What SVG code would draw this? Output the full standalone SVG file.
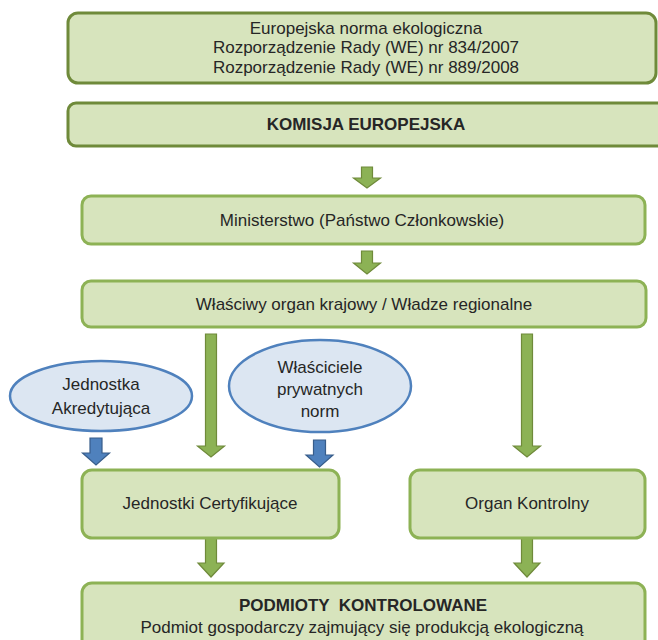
<svg xmlns="http://www.w3.org/2000/svg" width="658" height="640" viewBox="0 0 658 640">
  <defs>
    <style>
      .box { fill: #d7e4bd; stroke: #8db255; stroke-width: 3; }
      .box-dark { fill: #d7e4bd; stroke: #6f8a3a; stroke-width: 3; }
      .oval { fill: #dce6f2; stroke: #4f81bd; stroke-width: 2.5; }
      .g-arrow { fill: #8cb255; stroke: #6f8a3a; stroke-width: 1.2; }
      .b-arrow { fill: #4f81bd; stroke: #385d8a; stroke-width: 1.2; }
      text { font-family: "Liberation Sans", Arial, sans-serif; font-size: 17px; fill: #262626; text-anchor: middle; white-space: pre; }
      .bold { font-weight: bold; }
    </style>
  </defs>
  <rect width="658" height="640" fill="#ffffff"/>

  <g id="connectors">
    <!-- short arrows down the central chain -->
    <path class="g-arrow" d="M361.5,167 h11 v11 h8 l-13.5,10 l-13.5,-10 h8 z"/>
    <path class="g-arrow" d="M361.5,251 h11 v12 h8 l-13.5,11 l-13.5,-11 h8 z"/>
    <!-- long arrows from the national authority -->
    <path class="g-arrow" d="M205.5,334 h11 v112 h8 l-13.5,11 l-13.5,-11 h8 z"/>
    <path class="g-arrow" d="M521.5,334 h11 v112 h8 l-13.5,11 l-13.5,-11 h8 z"/>
    <!-- arrows from the accreditation and private standard owners -->
    <path class="b-arrow" d="M90,438 h12 v15 h7.5 l-13.5,12 l-13.5,-12 h7.5 z"/>
    <path class="b-arrow" d="M313.5,440 h12 v15 h7.5 l-13.5,12 l-13.5,-12 h7.5 z"/>
    <!-- arrows to the controlled operators -->
    <path class="g-arrow" d="M205.5,535 h11 v28 h7.5 l-13,14 l-13,-14 h7.5 z"/>
    <path class="g-arrow" d="M521.5,535 h11 v28 h7.5 l-13,14 l-13,-14 h7.5 z"/>
  </g>

  <g id="norma">
    <rect class="box-dark" x="68" y="13" width="588" height="70" rx="10"/>
    <text x="366" y="34">Europejska norma ekologiczna</text>
    <text x="366" y="53">Rozporządzenie Rady (WE) nr 834/2007</text>
    <text x="366" y="73">Rozporządzenie Rady (WE) nr 889/2008</text>
  </g>

  <g id="komisja">
    <rect class="box-dark" x="68" y="103" width="600" height="43" rx="8"/>
    <text class="bold" x="366" y="130" font-size="16">KOMISJA EUROPEJSKA</text>
  </g>

  <g id="ministerstwo">
    <rect class="box" x="82" y="196" width="563" height="48" rx="9"/>
    <text x="362" y="226">Ministerstwo (Państwo Członkowskie)</text>
  </g>

  <g id="organ-krajowy">
    <rect class="box" x="82" y="281" width="564" height="46" rx="9"/>
    <text x="364" y="310">Właściwy organ krajowy / Władze regionalne</text>
  </g>

  <g id="jednostka-akredytujaca">
    <ellipse class="oval" cx="101" cy="396" rx="91" ry="35"/>
    <text x="101" y="390">Jednostka</text>
    <text x="101" y="414">Akredytująca</text>
  </g>

  <g id="wlasciciele-norm">
    <ellipse class="oval" cx="320" cy="386" rx="91" ry="46"/>
    <text x="320" y="373">Właściciele</text>
    <text x="320" y="395">prywatnych</text>
    <text x="320" y="417">norm</text>
  </g>

  <g id="jednostki-certyfikujace">
    <rect class="box" x="82" y="470" width="257" height="68" rx="10"/>
    <text x="210" y="509">Jednostki Certyfikujące</text>
  </g>

  <g id="organ-kontrolny">
    <rect class="box" x="410" y="470" width="235" height="68" rx="10"/>
    <text x="527" y="509">Organ Kontrolny</text>
  </g>

  <g id="podmioty">
    <rect class="box" x="82" y="583" width="563" height="72" rx="10"/>
    <text class="bold" x="363" y="611" font-size="18">PODMIOTY  KONTROLOWANE</text>
    <text x="362" y="633">Podmiot gospodarczy zajmujący się produkcją ekologiczną</text>
  </g>
</svg>
